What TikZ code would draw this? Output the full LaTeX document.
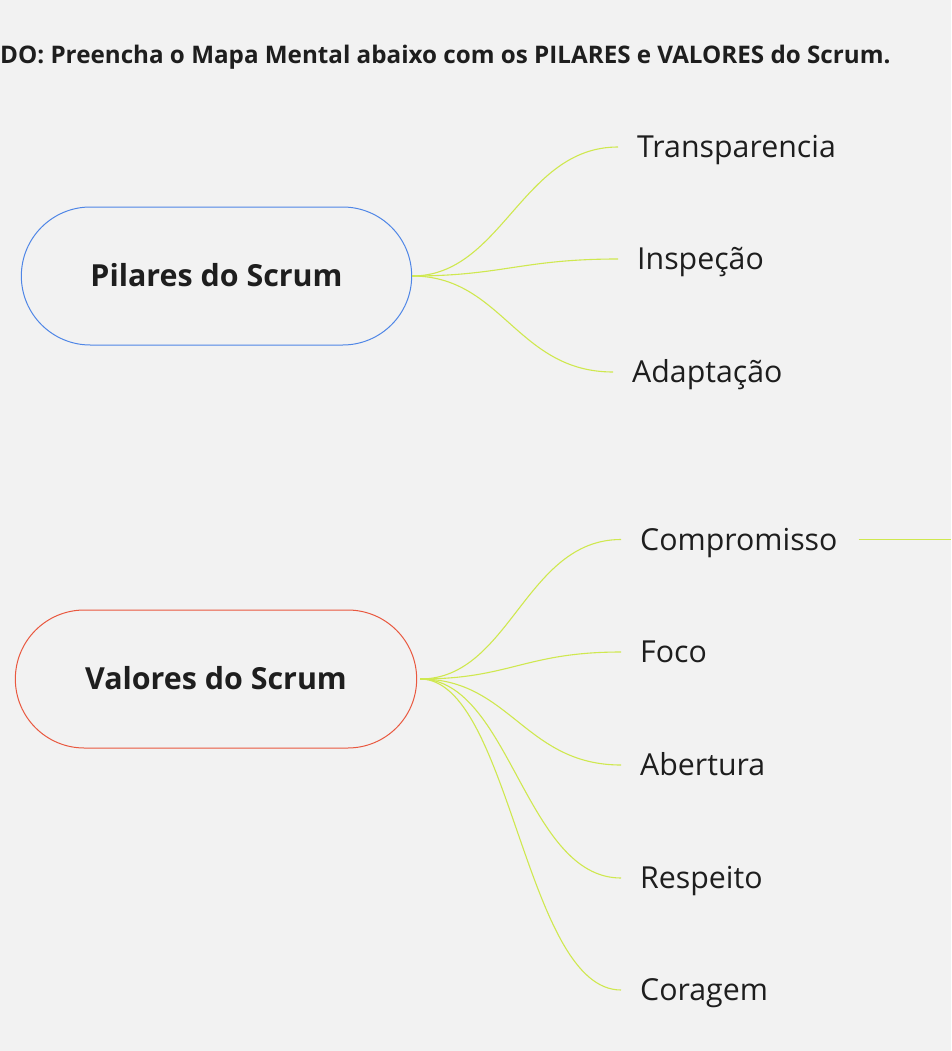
\documentclass[tikz,border=0pt]{standalone}
\usepackage{fontspec}
\setmainfont{Open Sans}
\usetikzlibrary{shapes.misc}
\definecolor{bg}{HTML}{F2F2F2}
\definecolor{ink}{HTML}{1E1E1E}
\definecolor{pblue}{HTML}{4F86E6}
\definecolor{vred}{HTML}{E9583F}
\definecolor{lime}{HTML}{CFE84F}
\tikzset{
  pill/.style={rounded rectangle, line width=1pt, fill=bg, minimum height=138pt,
    text height=21.7pt, text depth=0pt, font=\fontsize{30.4}{36}\selectfont\bfseries, text=ink},
  leaf/.style={anchor=west, inner xsep=0pt, inner ysep=0pt, text height=21.6pt, text depth=0pt,
    font=\fontsize{30.3}{36}\selectfont, text=ink},
  link/.style={draw=lime, line width=1.1pt},
  branch/.style={link, shorten >=19pt},
}
\begin{document}
\begin{tikzpicture}[x=1pt,y=-1pt]
\fill[bg] (0,0) rectangle (951,1051);
\useasboundingbox (0,0) rectangle (951,1051);
\node[anchor=base west, inner sep=0pt, font=\fontsize{24.2}{29}\selectfont\bfseries, text=ink] (title) at (0,63.3) {DO: Preencha o Mapa Mental abaixo com os PILARES e VALORES do Scrum.};

\node[pill, draw=pblue, minimum width=397pt] (pil) at (216.5,276) {Pilares do Scrum};
\node[pill, draw=vred, minimum width=408pt] (val) at (216,679) {Valores do Scrum};

\node[leaf] (t1) at (637,147) {Transparencia};
\node[leaf] (t2) at (637,259) {Inspeção};
\node[leaf] (t3) at (632,372) {Adaptação};

\node[leaf] (v1) at (640,539.5) {Compromisso};
\node[leaf] (v2) at (640,652) {Foco};
\node[leaf] (v3) at (640,765) {Abertura};
\node[leaf] (v4) at (640,878) {Respeito};
\node[leaf] (v5) at (640,990) {Coragem};
\coordinate (vend) at (951,539.5);

\foreach \t in {t1,t2,t3}
  \draw[branch] (pil.east) .. controls +(90,0) and +(-115,0) .. (\t.west);
\foreach \t in {v1,v2,v3,v4,v5}
  \draw[branch] ([xshift=3pt]val.east) .. controls +(90,0) and +(-115,0) .. (\t.west);
\draw[link, shorten <=21pt] (v1.east) -- (vend);
\end{tikzpicture}
\end{document}
